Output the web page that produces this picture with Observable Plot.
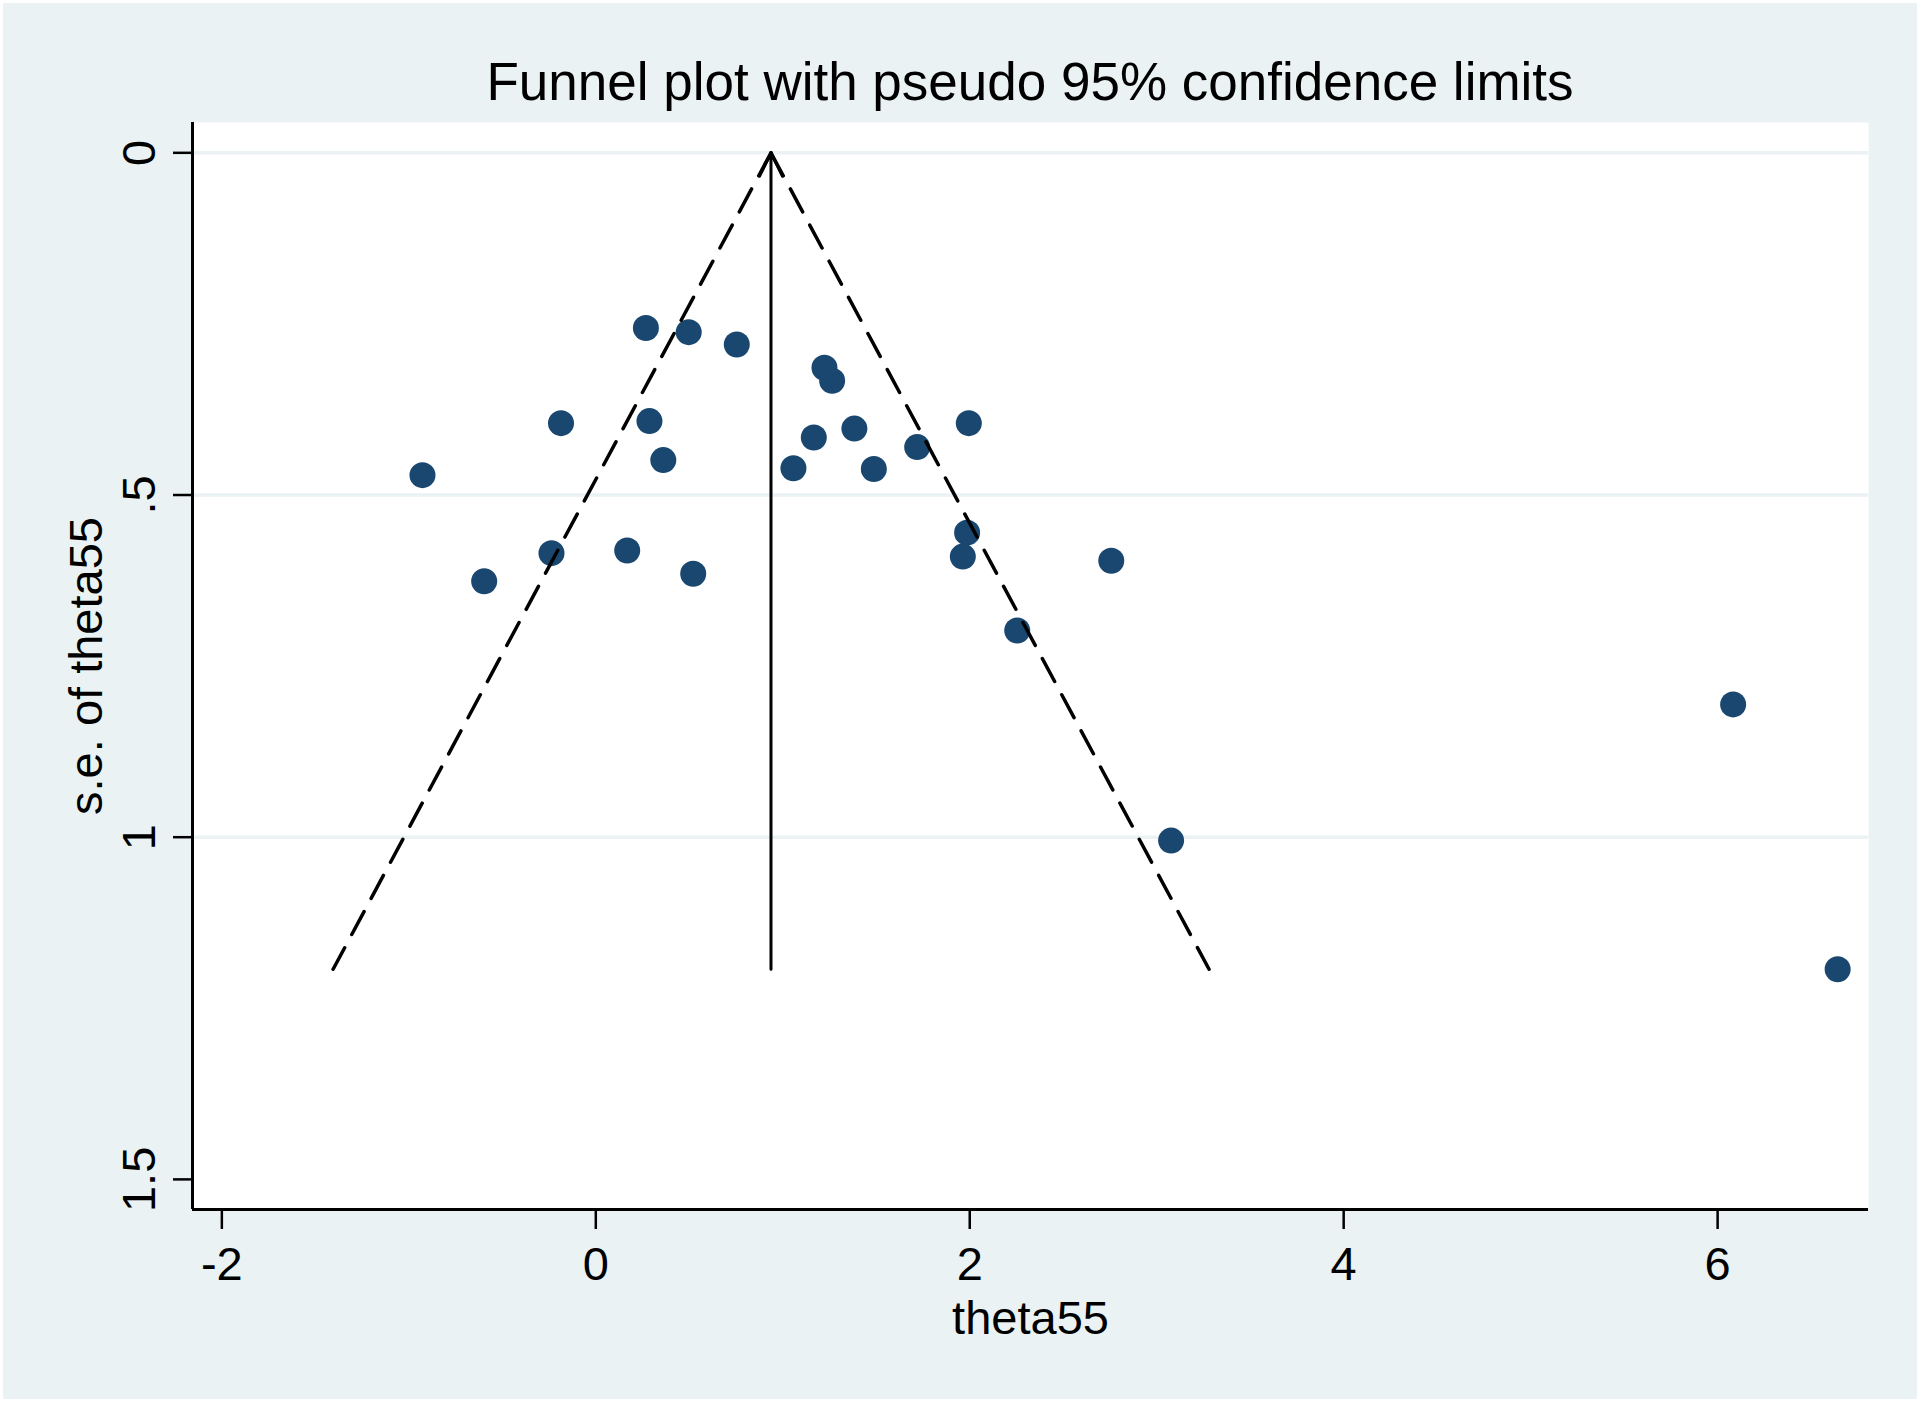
<!DOCTYPE html>
<html>
<head>
<meta charset="utf-8">
<script src="https://cdn.jsdelivr.net/npm/d3@7"></script>
<script src="https://cdn.jsdelivr.net/npm/@observablehq/plot@0.6"></script>
<style>
  html, body { margin: 0; padding: 0; background: #ffffff; }
  #wrap {
    width: 1920px; height: 1402px; box-sizing: border-box;
    border: 3px solid #ffffff; background: #eaf2f3;
    font-family: "Liberation Sans", Arial, Helvetica, sans-serif; color: #000;
    overflow: hidden;
  }
  #title {
    height: 117px; box-sizing: border-box; padding-top: 49px; padding-left: 140px;
    font-size: 53px; line-height: 60px; text-align: center; white-space: nowrap;
  }
  #chart svg { display: block; }
</style>
</head>
<body>
<div id="wrap">
  <div id="title">Funnel plot with pseudo 95% confidence limits</div>
  <div id="chart"></div>
</div>
<script>
// Study effect estimates (theta55) and their standard errors
const theta = [0.268, 0.497, 0.754, 1.223, 1.264, -0.186, 0.287, 1.995, 1.383, 1.166,
               1.719, 0.361, 1.057, 1.487, -0.927, 1.986, -0.237, 0.168, 1.963, 2.757,
               -0.597, 0.521, 2.254, 6.083, 3.077, 6.642];
const se    = [0.256, 0.262, 0.280, 0.314, 0.333, 0.395, 0.392, 0.395, 0.403, 0.416,
               0.430, 0.449, 0.461, 0.462, 0.471, 0.555, 0.585, 0.581, 0.590, 0.596,
               0.626, 0.615, 0.698, 0.806, 1.005, 1.193];

// Pooled estimate and pseudo 95% limits
const pooled = 0.937;
const limitSe = [0, 1.193];
const lowerLimitX = [0.937, -1.405];
const upperLimitX = [0.937, 3.280];

// Axes
const xTicks = [-2, 0, 2, 4, 6];
const xTickLabels = ["-2", "0", "2", "4", "6"];
const yTicks = [0, 0.5, 1, 1.5];
const yTickLabels = ["0", ".5", "1", "1.5"];
const yGrid = [0, 0.5, 1];
const xDomain = [-2.157, 6.807];
const yDomain = [-0.0443, 1.544];

const points = theta.map((t, i) => ({theta: t, se: se[i]}));
const lower = limitSe.map((s, i) => ({x: lowerLimitX[i], y: s}));
const upper = limitSe.map((s, i) => ({x: upperLimitX[i], y: s}));
const pooledLine = [{x1: pooled, y1: limitSe[1], x2: pooled, y2: limitSe[0]}];

const font = "'Liberation Sans', Arial, Helvetica, sans-serif";
const navy = "#1a476f";

const chart = Plot.plot({
  width: 1914,
  height: 1279,
  marginLeft: 189,
  marginRight: 49,
  marginTop: 2,
  marginBottom: 190,
  x: {domain: xDomain},
  y: {domain: yDomain, reverse: true},
  style: {background: "transparent", fontFamily: font, color: "#000", overflow: "visible"},
  marks: [
    Plot.frame({fill: "#ffffff", stroke: "none"}),
    Plot.ruleY(yGrid, {stroke: "#eaf2f3", strokeWidth: 3.5}),
    Plot.dot(points, {x: "theta", y: "se", r: 13, fill: navy, stroke: "none"}),
    Plot.line(lower, {x: "x", y: "y", stroke: "#000", strokeWidth: 3.5, strokeDasharray: "26,15"}),
    Plot.line(upper, {x: "x", y: "y", stroke: "#000", strokeWidth: 3.5, strokeDasharray: "26,15"}),
    Plot.arrow(pooledLine, {x1: "x1", y1: "y1", x2: "x2", y2: "y2", stroke: "#000", strokeWidth: 3, headLength: 13, headAngle: 52}),
    Plot.ruleX([xDomain[0]], {stroke: "#000", strokeWidth: 3}),
    Plot.ruleY([yDomain[1]], {stroke: "#000", strokeWidth: 3}),
    Plot.axisY({
      ticks: yTicks,
      tickFormat: (d) => yTickLabels[yTicks.indexOf(d)],
      tickRotate: -90,
      tickSize: 19,
      tickPadding: 19,
      fontSize: 47,
      strokeWidth: 2.5,
      label: null
    }),
    Plot.axisX({
      ticks: xTicks,
      tickFormat: (d) => xTickLabels[xTicks.indexOf(d)],
      tickSize: 20,
      tickPadding: 17,
      fontSize: 47,
      strokeWidth: 2.5,
      label: null
    }),
    Plot.text(["s.e. of theta55"], {frameAnchor: "left", dx: -91, rotate: -90, textAnchor: "middle", lineAnchor: "bottom", fontSize: 47, fill: "#000"}),
    Plot.text(["theta55"], {frameAnchor: "bottom", dy: 124, lineAnchor: "bottom", fontSize: 47, fill: "#000"})
  ]
});
document.getElementById("chart").appendChild(chart);
</script>
</body>
</html>
